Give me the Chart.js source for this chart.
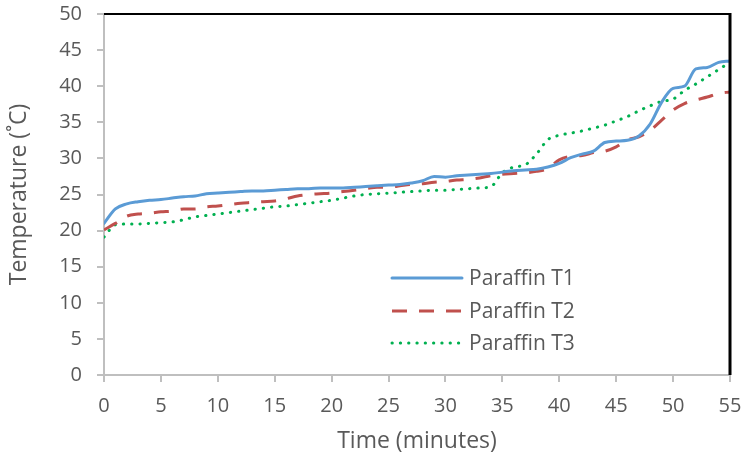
<!DOCTYPE html>
<html>
<head>
<meta charset="utf-8">
<script src="https://cdn.jsdelivr.net/npm/chart.js@4"></script>
<style>
  html, body { margin: 0; padding: 0; background: #fff; }
  #wrap { width: 743px; height: 460px; }
</style>
</head>
<body>
<div id="wrap"><canvas id="tempChart" width="743" height="460"></canvas></div>
<script>
// time in minutes
const minutes = [];
for (let m = 0; m <= 55; m++) minutes.push(m);

const paraffinT1 = [21.0, 23.0, 23.7, 24.0, 24.2, 24.3, 24.5, 24.7, 24.8, 25.1,
  25.2, 25.3, 25.4, 25.5, 25.5, 25.6, 25.7, 25.8, 25.8, 25.9,
  25.9, 25.9, 26.0, 26.1, 26.2, 26.3, 26.4, 26.6, 26.9, 27.5,
  27.4, 27.6, 27.7, 27.8, 27.9, 28.1, 28.3, 28.4, 28.5, 28.8,
  29.3, 30.1, 30.6, 31.0, 32.2, 32.4, 32.5, 33.1, 34.8, 37.8,
  39.7, 40.0, 42.4, 42.6, 43.3, 43.5];

const paraffinT2 = [20.1, 21.0, 22.0, 22.3, 22.4, 22.6, 22.7, 23.0, 23.0, 23.3,
  23.4, 23.6, 23.8, 23.9, 24.0, 24.1, 24.4, 24.8, 25.0, 25.1,
  25.2, 25.4, 25.6, 25.8, 26.0, 26.0, 26.2, 26.4, 26.5, 26.7,
  26.8, 27.0, 27.1, 27.3, 27.6, 27.8, 27.9, 28.0, 28.2, 28.6,
  29.8, 30.3, 30.4, 30.8, 31.0, 31.6, 32.6, 33.0, 33.9, 35.3,
  36.7, 37.6, 38.1, 38.5, 39.0, 39.2];

const paraffinT3 = [19.1, 20.8, 20.9, 20.9, 21.0, 21.1, 21.2, 21.5, 21.9, 22.1,
  22.3, 22.5, 22.7, 22.9, 23.1, 23.3, 23.4, 23.6, 23.8, 24.0,
  24.2, 24.5, 24.8, 25.0, 25.1, 25.2, 25.3, 25.4, 25.5, 25.6,
  25.6, 25.7, 25.8, 25.9, 26.1, 28.0, 28.8, 29.1, 30.6, 32.6,
  33.2, 33.5, 33.8, 34.2, 34.6, 35.2, 35.8, 36.6, 37.3, 37.9,
  38.2, 39.4, 40.3, 41.3, 42.3, 43.3];

const seriesNames = ["Paraffin T1", "Paraffin T2", "Paraffin T3"];

const textColor = "#595959";
const axisColor = "#BFBFBF";
const fontFamily = "'Open Sans', sans-serif";

function toPoints(values) {
  return values.map((v, i) => ({ x: minutes[i], y: v }));
}

// black frame on top and right, as in the original
const framePlugin = {
  id: "frame",
  afterDraw(chart) {
    const { ctx, chartArea: a } = chart;
    ctx.save();
    ctx.strokeStyle = "#000";
    ctx.lineWidth = 2;
    ctx.beginPath();
    ctx.moveTo(a.left, a.top);
    ctx.lineTo(a.right, a.top);
    ctx.stroke();
    ctx.lineWidth = 3;
    ctx.beginPath();
    ctx.moveTo(a.right, a.top - 1);
    ctx.lineTo(a.right, a.bottom);
    ctx.stroke();
    ctx.restore();
  },
};

// legend drawn inside the plot area
const innerLegend = {
  id: "innerLegend",
  afterDatasetsDraw(chart) {
    const { ctx } = chart;
    const x0 = 392, x1 = 462, tx = 469;
    const rows = [278, 311, 343];
    ctx.save();
    chart.data.datasets.forEach((ds, i) => {
      const y = rows[i];
      ctx.strokeStyle = ds.borderColor;
      ctx.lineWidth = ds.borderWidth;
      ctx.lineCap = ds.borderCapStyle || "butt";
      ctx.setLineDash(ds.borderDash || []);
      ctx.beginPath();
      ctx.moveTo(x0, y);
      ctx.lineTo(x1, y);
      ctx.stroke();
      ctx.setLineDash([]);
      ctx.fillStyle = textColor;
      ctx.font = "21px " + fontFamily;
      ctx.textBaseline = "middle";
      ctx.fillText(ds.label, tx, y + 1);
    });
    ctx.restore();
  },
};

document.addEventListener("DOMContentLoaded", function () {
  const ctx = document.getElementById("tempChart").getContext("2d");
  new Chart(ctx, {
    type: "line",
    data: {
      datasets: [
        {
          label: seriesNames[0],
          data: toPoints(paraffinT1),
          borderColor: "#5B9BD5",
          borderWidth: 3,
          borderCapStyle: "round",
        },
        {
          label: seriesNames[1],
          data: toPoints(paraffinT2),
          borderColor: "#C0504D",
          borderWidth: 3,
          borderDash: [15, 12],
        },
        {
          label: seriesNames[2],
          data: toPoints(paraffinT3),
          borderColor: "#00B050",
          borderWidth: 3,
          borderDash: [0.3, 8],
          borderCapStyle: "round",
        },
      ],
    },
    options: {
      responsive: false,
      animation: false,
      cubicInterpolationMode: "monotone",
      elements: { point: { radius: 0 } },
      layout: { padding: { left: 0, right: 13, top: 14, bottom: 0 } },
      plugins: { legend: { display: false }, tooltip: { enabled: false } },
      scales: {
        x: {
          type: "linear",
          min: 0,
          max: 55,
          ticks: { stepSize: 5, color: textColor, padding: 12, font: { family: fontFamily, size: 20 } },
          grid: { drawOnChartArea: false, tickLength: 7, color: axisColor, lineWidth: 2 },
          border: { color: axisColor, width: 2 },
          title: {
            display: true,
            text: "Time (minutes)",
            color: textColor,
            padding: { top: 0, bottom: 5 },
            font: { family: fontFamily, size: 23 },
          },
          afterFit(axis) {
            axis.height = 85;
            axis.paddingLeft = 0;
            axis.paddingRight = 0;
          },
        },
        y: {
          min: 0,
          max: 50,
          ticks: { stepSize: 5, color: textColor, padding: 15, font: { family: fontFamily, size: 20 } },
          grid: { drawOnChartArea: false, tickLength: 7, color: axisColor, lineWidth: 2 },
          border: { color: axisColor, width: 2 },
          title: {
            display: true,
            text: "Temperature (˚C)",
            color: textColor,
            padding: { top: 6, bottom: 0 },
            font: { family: fontFamily, size: 23 },
          },
          afterFit(axis) {
            axis.width = 104;
            axis.paddingTop = 0;
            axis.paddingBottom = 0;
          },
        },
      },
    },
    plugins: [framePlugin, innerLegend],
  });
});
</script>
</body>
</html>
